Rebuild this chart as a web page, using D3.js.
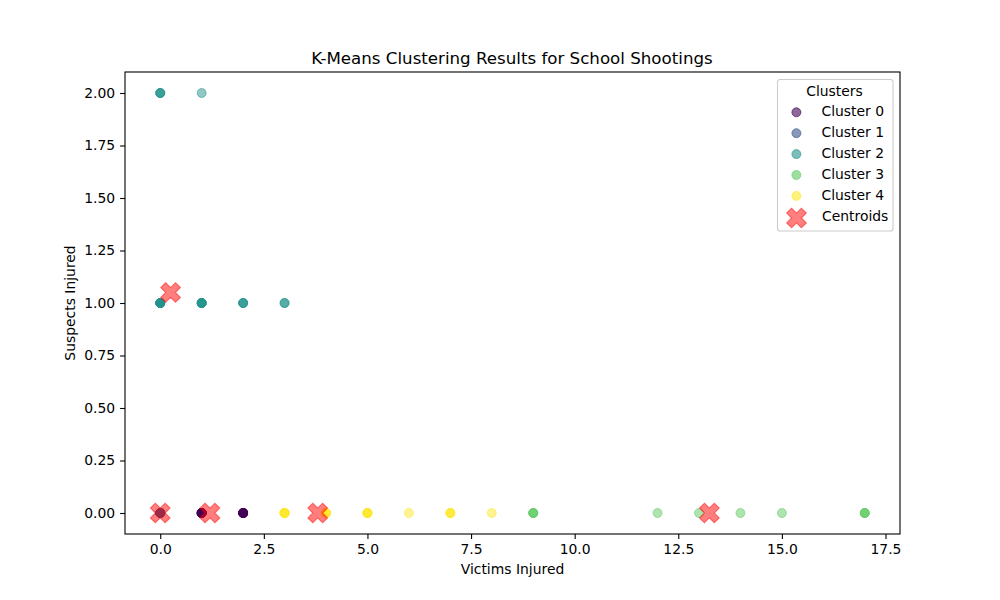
<!DOCTYPE html>
<html>
<head>
<meta charset="utf-8">
<script src="https://cdn.jsdelivr.net/npm/d3@7"></script>
<style>
  html, body { margin: 0; padding: 0; background: #fff; }
  svg { display: block; }
  text { font-family: "DejaVu Sans", sans-serif; fill: #000; }
</style>
</head>
<body>
<script>
// repeated pairs are points stacked on each other, they darken through the alpha
var cluster0 = [[1,0],[1,0],[1,0],[1,0],[1,0],[1,0],[1,0],[1,0],[2,0],[2,0],[2,0],[2,0],[2,0],[2,0],[2,0],[2,0]];
var cluster1 = [[0,0],[0,0],[0,0],[0,0],[0,0],[0,0],[0,0],[0,0]];
var cluster2 = [[0,2],[0,2],[0,2],[1,2],[0,1],[0,1],[0,1],[0,1],[0,1],[0,1],[1,1],[1,1],[1,1],[1,1],[1,1],[2,1],[2,1],[2,1],[3,1],[3,1]];
var cluster3 = [[9,0],[9,0],[9,0],[12,0],[13,0],[14,0],[15,0],[17,0],[17,0],[17,0]];
var cluster4 = [[3,0],[3,0],[3,0],[3,0],[3,0],[4,0],[4,0],[4,0],[4,0],[5,0],[5,0],[5,0],[5,0],[6,0],[7,0],[7,0],[7,0],[8,0]];
var centroids = [[1.2,0],[0,0],[0.25,1.05],[13.25,0],[3.8,0]];

var clusters = [cluster0, cluster1, cluster2, cluster3, cluster4];
var clusterNames = ["Cluster 0", "Cluster 1", "Cluster 2", "Cluster 3", "Cluster 4"];
var clusterColors = ["#440154", "#3b528b", "#21918c", "#5ec962", "#fde725"];
var xTicks = [0, 2.5, 5, 7.5, 10, 12.5, 15, 17.5];
var yTicks = [0, 0.25, 0.5, 0.75, 1, 1.25, 1.5, 1.75, 2];

var margin = {top: 72, right: 100, bottom: 66, left: 125};
var svg = d3.select("body").append("svg")
            .attr("width", 1000)
            .attr("height", 600);
var width = 1000 - margin.left - margin.right;
var height = 600 - margin.top - margin.bottom;

var xScale = d3.scaleLinear().domain([-0.85, 17.85]).range([0, width]);
var yScale = d3.scaleLinear().domain([-0.1, 2.1]).range([height, 0]);

var chart = svg.append("g")
               .attr("transform", "translate(" + margin.left + "," + margin.top + ")");

// one point of matplotlib's filled X marker, half width 2 units
var xShape = [[-1,-2],[0,-1],[1,-2],[2,-1],[1,0],[2,1],[1,2],[0,1],[-1,2],[-2,1],[-1,0],[-2,-1]];
var xPath = d3.line().curve(d3.curveLinearClosed)(xShape.map(function(p) { return [p[0] * 4.91, p[1] * 4.91]; }));

function drawDot(sel, color, alpha) {
    sel.attr("r", 4.5)
       .attr("fill", color)
       .attr("fill-opacity", alpha)
       .attr("stroke", color)
       .attr("stroke-opacity", alpha)
       .attr("stroke-width", 1);
}
function drawCross(sel) {
    sel.attr("d", xPath)
       .attr("fill", "red")
       .attr("fill-opacity", 0.5)
       .attr("stroke", "red")
       .attr("stroke-opacity", 0.5)
       .attr("stroke-width", 1.1);
}

// points
clusters.forEach(function(points, i) {
    chart.append("g").selectAll("circle")
         .data(points)
         .enter()
         .append("circle")
         .attr("cx", function(d) { return xScale(d[0]); })
         .attr("cy", function(d) { return yScale(d[1]); })
         .call(drawDot, clusterColors[i], 0.5);
});

chart.append("g").selectAll("path")
     .data(centroids)
     .enter()
     .append("path")
     .attr("transform", function(d) { return "translate(" + xScale(d[0]) + "," + yScale(d[1]) + ")"; })
     .call(drawCross);

// axes
var xAxis = chart.append("g")
                 .attr("transform", "translate(0," + height + ")")
                 .call(d3.axisBottom(xScale).tickValues(xTicks).tickFormat(d3.format(".1f")).tickSize(4.9).tickPadding(4.9));
var yAxis = chart.append("g")
                 .call(d3.axisLeft(yScale).tickValues(yTicks).tickFormat(d3.format(".2f")).tickSize(4.9).tickPadding(4.9));

[xAxis, yAxis].forEach(function(a) {
    a.select(".domain").remove();
    a.selectAll("line").attr("stroke", "#000").attr("stroke-width", 1.1);
    a.selectAll("text").attr("font-size", 13.9).attr("font-family", "DejaVu Sans");
});

chart.append("rect")
     .attr("width", width)
     .attr("height", height)
     .attr("fill", "none")
     .attr("stroke", "#000")
     .attr("stroke-width", 1.1);

// labels
svg.append("text").attr("x", 512).attr("y", 64)
   .attr("text-anchor", "middle").attr("font-size", 16.67)
   .text("K-Means Clustering Results for School Shootings");
svg.append("text").attr("x", 512.5).attr("y", 574)
   .attr("text-anchor", "middle").attr("font-size", 13.9)
   .text("Victims Injured");
svg.append("text").attr("transform", "translate(75,303) rotate(-90)")
   .attr("text-anchor", "middle").attr("font-size", 13.9)
   .text("Suspects Injured");

// legend
var legend = svg.append("g");
legend.append("rect")
      .attr("x", 777.5).attr("y", 79.5)
      .attr("width", 115.5).attr("height", 151.5)
      .attr("rx", 2.8)
      .attr("fill", "#fff").attr("fill-opacity", 0.8)
      .attr("stroke", "#ccc").attr("stroke-width", 1.1);
legend.append("text").attr("x", 834.5).attr("y", 96)
      .attr("text-anchor", "middle").attr("font-size", 13.9)
      .text("Clusters");

clusterNames.forEach(function(name, i) {
    var rowY = 112.3 + i * 20.9;
    legend.append("circle").attr("cx", 796.4).attr("cy", rowY).call(drawDot, clusterColors[i], 0.6);
    legend.append("text").attr("x", 821.5).attr("y", rowY + 3.7)
          .attr("font-size", 13.9).text(name);
});
legend.append("path").attr("transform", "translate(796.5,218)").call(drawCross);
legend.append("text").attr("x", 822).attr("y", 220.5)
      .attr("font-size", 13.9).text("Centroids");
</script>
</body>
</html>
